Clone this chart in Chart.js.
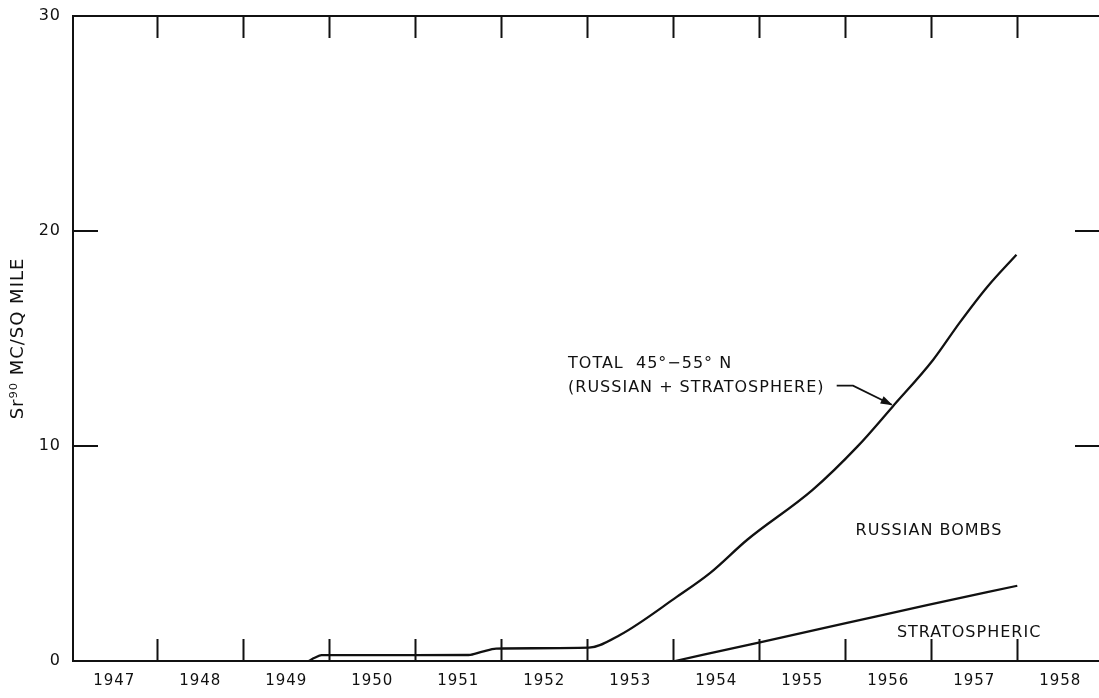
<!DOCTYPE html>
<html><head><meta charset="utf-8">
<script src="https://cdn.jsdelivr.net/npm/chart.js@4/dist/chart.umd.min.js"></script>
<style>html,body{margin:0;padding:0;background:#fff;}#wrap{width:1099px;height:698px;position:relative;}</style>
</head><body><div id="wrap"><canvas id="c"></canvas></div>
<script>
// ---- data ----
const totalYears  = [1949.76, 1949.83, 1949.91, 1951.62, 1951.77, 1951.94, 1953.02, 1953.38, 1954.04, 1954.43, 1954.86, 1955.62, 1956.14, 1956.55, 1957.02, 1957.33, 1957.65, 1957.99];
const totalValues = [0.00,    0.15,    0.27,    0.28,    0.42,    0.58,    0.62,    1.21,    2.98,    4.10,    5.64,    7.96,    9.97,    11.83,   14.00,   15.74,   17.40,   18.90];
const stratYears  = [1954.02, 1955.02, 1956.02, 1956.95, 1958.00];
const stratValues = [0.00,    0.88,    1.77,    2.60,    3.50];
const yearLabels  = [1947,1948,1949,1950,1951,1952,1953,1954,1955,1956,1957,1958];
const yearBoundaries = [1948,1949,1950,1951,1952,1953,1954,1955,1956,1957,1958];
const yTickValues = [0,10,20,30];
const yMarkValues = [10,20];
const noteTexts = ['TOTAL  45°\u221255° N', '(RUSSIAN + STRATOSPHERE)', 'RUSSIAN BOMBS', 'STRATOSPHERIC'];

const INK = '#111';
const FONT = '"DejaVu Sans", sans-serif';
const xMin = 1947.02, xMax = 1958.95;

const toPts = (xs, ys) => xs.map((v, i) => ({x: v, y: ys[i]}));

const frame = {
  id: 'frame',
  beforeUpdate(chart){ chart.ctx.letterSpacing = '1px'; },
  beforeDraw(chart){ chart.ctx.letterSpacing = '1px'; },
  afterDraw(chart){
    const {ctx, chartArea: a, scales: {x, y}} = chart;
    ctx.save();
    ctx.strokeStyle = INK; ctx.fillStyle = INK; ctx.lineWidth = 2; ctx.lineCap = 'butt';
    ctx.beginPath();
    ctx.moveTo(a.left - 1, a.top); ctx.lineTo(a.right, a.top);
    yearBoundaries.forEach(v => {
      const px = Math.round(x.getPixelForValue(v)) + 0.5;
      ctx.moveTo(px, a.bottom); ctx.lineTo(px, a.bottom - 22);
      ctx.moveTo(px, a.top); ctx.lineTo(px, a.top + 22);
    });
    yMarkValues.forEach(v => {
      const py = Math.round(y.getPixelForValue(v));
      ctx.moveTo(a.left, py); ctx.lineTo(a.left + 25, py);
      ctx.moveTo(a.right, py); ctx.lineTo(a.right - 24, py);
    });
    ctx.stroke();

    // annotations (anchored in data coordinates)
    ctx.letterSpacing = '1px';
    ctx.font = '16px ' + FONT;
    ctx.textAlign = 'left'; ctx.textBaseline = 'alphabetic';
    const notes = [
      {t: noteTexts[0], x: 1952.776, y: 13.65},
      {t: noteTexts[1], x: 1952.776, y: 12.53},
      {t: noteTexts[2], x: 1956.12, y: 5.87},
      {t: noteTexts[3], x: 1956.60, y: 1.12}
    ];
    notes.forEach(n => ctx.fillText(n.t, x.getPixelForValue(n.x), y.getPixelForValue(n.y)));

    // arrow
    const p0 = [x.getPixelForValue(1955.90), y.getPixelForValue(12.81)];
    const p1 = [x.getPixelForValue(1956.09), y.getPixelForValue(12.81)];
    const p2 = [x.getPixelForValue(1956.54), y.getPixelForValue(11.92)];
    ctx.lineWidth = 1.8;
    ctx.beginPath();
    ctx.moveTo(p0[0], p0[1]); ctx.lineTo(p1[0], p1[1]); ctx.lineTo(p2[0], p2[1]);
    ctx.stroke();
    const ang = Math.atan2(p2[1] - p1[1], p2[0] - p1[0]);
    const L = 11, W = 4;
    ctx.beginPath();
    ctx.moveTo(p2[0] + 1, p2[1] + 0.5);
    ctx.lineTo(p2[0] - L * Math.cos(ang) + W * Math.sin(ang), p2[1] - L * Math.sin(ang) - W * Math.cos(ang));
    ctx.lineTo(p2[0] - L * Math.cos(ang) - W * Math.sin(ang), p2[1] - L * Math.sin(ang) + W * Math.cos(ang));
    ctx.closePath(); ctx.fill();
    ctx.restore();
  }
};

new Chart(document.getElementById('c'), {
  type: 'line',
  data: {
    datasets: [
      {label: 'Total', data: toPts(totalYears, totalValues), borderColor: INK, borderWidth: 2.3, pointRadius: 0, cubicInterpolationMode: 'monotone', fill: false},
      {label: 'Stratospheric', data: toPts(stratYears, stratValues), borderColor: INK, borderWidth: 2.3, pointRadius: 0, cubicInterpolationMode: 'monotone', fill: false}
    ]
  },
  options: {
    responsive: true, maintainAspectRatio: false, animation: false,
    layout: {padding: {top: 16, right: 0, left: 0, bottom: 0}},
    plugins: {legend: {display: false}, tooltip: {enabled: false}},
    scales: {
      x: {
        type: 'linear', min: xMin, max: xMax,
        grid: {display: false, drawTicks: false},
        border: {display: true, color: INK, width: 2},
        afterBuildTicks: s => { s.ticks = yearLabels.map(v => ({value: v + 0.5})); },
        afterFit: s => { s.height = 37; s.paddingLeft = 0; s.paddingRight = 0; },
        ticks: {autoSkip: false, maxRotation: 0, padding: 11, color: INK, font: {family: FONT, size: 15},
                callback: v => String(Math.floor(v))}
      },
      y: {
        min: 0, max: 30,
        grid: {display: false, drawTicks: false},
        border: {display: true, color: INK, width: 2},
        afterBuildTicks: s => { s.ticks = yTickValues.map(v => ({value: v})); },
        afterFit: s => { s.width = 73; s.paddingTop = 0; s.paddingBottom = 0; },
        ticks: {padding: 12, color: INK, font: {family: FONT, size: 16}},
        title: {display: true, text: 'Sr\u2079\u2070 MC/SQ MILE', color: INK, font: {family: FONT, size: 18}, padding: {top: 8, bottom: 0}}
      }
    }
  },
  plugins: [frame]
});
</script>
</body></html>
